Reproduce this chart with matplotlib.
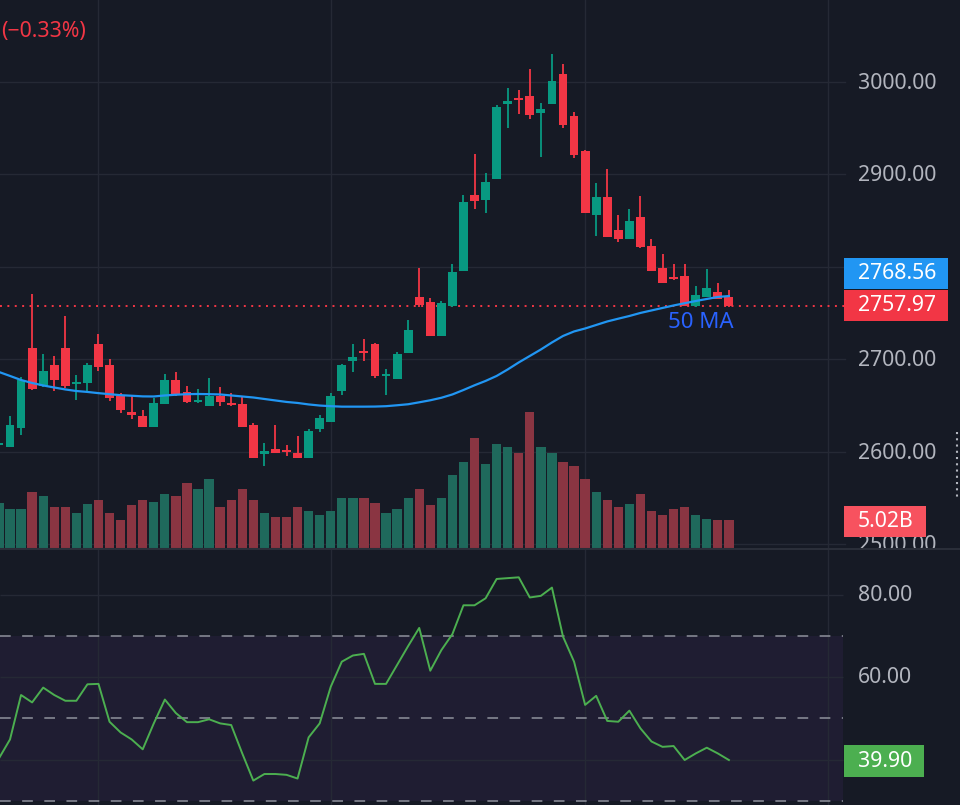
import matplotlib.pyplot as plt
from matplotlib.lines import Line2D
from matplotlib.patches import Rectangle
import numpy as np

# daily candles, oldest first (last one is the live bar)
opens = [2608, 2605, 2626, 2712, 2671, 2694, 2712, 2674, 2675, 2717, 2694, 2660, 2643, 2639, 2627, 2652, 2678,
         2665, 2654, 2650, 2660, 2653, 2652, 2629, 2598, 2603, 2601, 2599, 2593, 2625, 2632, 2666, 2698, 2709,
         2717, 2682, 2679, 2707, 2767, 2762, 2725, 2758, 2796, 2878, 2872, 2895, 2976, 2983, 2985, 2966, 2976,
         3009, 2963, 2925, 2856, 2876, 2840, 2830, 2854, 2823, 2799, 2789, 2790, 2758, 2767, 2773, 2768]
highs = [2611, 2639, 2681, 2771, 2706, 2704, 2747, 2683, 2696, 2727, 2700, 2664, 2662, 2645, 2658, 2684, 2686,
         2671, 2668, 2680, 2670, 2664, 2661, 2631, 2610, 2629, 2608, 2617, 2625, 2640, 2664, 2695, 2717, 2722,
         2718, 2690, 2708, 2743, 2799, 2766, 2763, 2803, 2878, 2922, 2902, 2975, 2993, 2991, 3014, 2977, 3030,
         3019, 2967, 2926, 2891, 2906, 2856, 2863, 2877, 2830, 2814, 2803, 2803, 2779, 2798, 2783, 2775]
lows = [2606, 2605, 2618, 2667, 2670, 2666, 2669, 2656, 2665, 2688, 2655, 2642, 2636, 2627, 2627, 2652, 2661,
        2653, 2653, 2650, 2650, 2650, 2627, 2593, 2585, 2599, 2596, 2593, 2593, 2622, 2632, 2662, 2686, 2698,
        2680, 2662, 2679, 2707, 2757, 2725, 2725, 2757, 2796, 2863, 2858, 2895, 2950, 2965, 2960, 2919, 2976,
        2950, 2918, 2858, 2834, 2832, 2827, 2830, 2820, 2796, 2783, 2786, 2758, 2757, 2767, 2765, 2757]
closes = [2609, 2629, 2678, 2668, 2688, 2678, 2671, 2676, 2694, 2692, 2658, 2645, 2640, 2627, 2653, 2678, 2662,
          2654, 2656, 2660, 2654, 2651, 2627, 2593, 2601, 2599, 2600, 2594, 2623, 2637, 2660, 2694, 2703, 2707,
          2682, 2684, 2706, 2732, 2759, 2725, 2761, 2795, 2870, 2871, 2892, 2973, 2979, 2981, 2964, 2971, 3001,
          2954, 2921, 2858, 2876, 2832, 2830, 2850, 2822, 2796, 2783, 2787, 2758, 2770, 2777, 2765, 2757.97]

# volume in billions
volumes = [8.10, 7.07, 7.07, 10.09, 9.42, 7.37, 7.37, 6.34, 8.03, 8.70, 6.34, 5.02, 7.74, 8.70, 8.39, 9.73, 9.42,
           11.78, 10.75, 12.45, 7.37, 8.70, 10.75, 8.70, 6.34, 5.67, 5.67, 7.37, 6.70, 5.98, 6.70, 9.06, 9.06,
           9.06, 8.10, 6.34, 7.07, 9.06, 10.75, 7.74, 9.06, 13.17, 15.53, 19.93, 15.17, 18.90, 18.25, 17.21,
           24.64, 18.25, 17.21, 15.53, 14.86, 12.45, 10.09, 8.70, 7.37, 8.03, 9.73, 6.70, 5.98, 7.07, 7.37, 5.98,
           5.31, 5.10, 5.02]

ma50 = [2686.5, 2682.2, 2677.8, 2674.6, 2671.9, 2669.7, 2667.6, 2665.9, 2664.9, 2663.6, 2662.5, 2661.4, 2660.8,
        2660.1, 2660.0, 2661.1, 2661.9, 2662.5, 2662.7, 2662.5, 2662.2, 2661.1, 2660.0, 2658.9, 2657.3, 2655.7,
        2654.1, 2653.0, 2651.4, 2650.2, 2649.5, 2649.0, 2649.0, 2649.0, 2649.1, 2649.5, 2650.5, 2651.6, 2653.7,
        2655.9, 2658.6, 2662.2, 2667.0, 2672.1, 2676.8, 2682.2, 2689.2, 2696.8, 2703.8, 2710.8, 2718.4, 2725.4,
        2730.3, 2733.5, 2737.3, 2741.1, 2744.1, 2747.0, 2750.3, 2753.0, 2755.7, 2758.4, 2760.8, 2763.2, 2765.4,
        2767.6, 2768.56]

rsi = [40.3, 44.9, 55.7, 53.9, 57.5, 55.7, 54.3, 54.3, 58.3, 58.4, 49.2, 46.6, 44.9, 42.5, 48.8, 54.6, 51.3,
       49.1, 49.1, 49.8, 48.8, 48.4, 41.5, 34.9, 36.5, 36.5, 36.3, 35.4, 45.4, 48.8, 57.7, 63.8, 65.3, 65.7,
       58.4, 58.4, 63.0, 67.6, 72.0, 61.6, 66.6, 70.5, 77.5, 77.5, 79.2, 83.9, 84.1, 84.3, 79.4, 79.8, 81.8,
       69.9, 63.8, 53.3, 55.5, 49.4, 49.2, 51.9, 47.6, 44.4, 43.1, 43.3, 39.9, 41.5, 42.9, 41.5, 39.90]

price_ticks = [3000, 2900, 2800, 2700, 2600, 2500]
price_labels = ['3000.00', '2900.00', '', '2700.00', '2600.00', '2500.00']
rsi_grid = [80, 60, 40]
rsi_labels = ['80.00', '60.00', '']
rsi_levels = [70, 50, 30]
month_starts = [9, 30, 53, 75]
change_text = '(\u22120.33%)'

BG = '#161a25'
GRID = '#252935'
UP = '#089981'
DOWN = '#f23645'
VOL_UP = '#1f695c'
VOL_DOWN = '#8a3542'
AXIS_TXT = '#b2b5be'
FS = 15.3

W, H = 960, 805
STEP = 11.06  # pixels per bar


def px2i(p):
    # pixel column -> bar index
    return 1 + (p - 10) / STEP


def tag(x0, x1, y0, y1, text, color):
    fig = plt.gcf()
    fig.add_artist(Rectangle((x0 / W, 1 - y1 / H), (x1 - x0) / W, (y1 - y0) / H,
                             transform=fig.transFigure, facecolor=color, edgecolor='none', zorder=5))
    fig.text(858 / W, 1 - (y0 + y1) / 2 / H, text, color='white', fontsize=FS,
             ha='left', va='center', zorder=6)


def main():
    plt.rcParams['font.family'] = ['Noto Sans', 'DejaVu Sans']
    n = len(closes)
    idx = np.arange(n)
    o = np.array(opens)
    c = np.array(closes)
    up = c >= o

    fig = plt.figure(figsize=(W / 100, H / 100), dpi=100, facecolor=BG)
    rect = [0, 257 / H, 1, 548 / H]
    axv = fig.add_axes(rect)
    ax = fig.add_axes(rect)
    axr = fig.add_axes([0, 0, 1, 256 / H])
    x0, x1 = px2i(0), px2i(W)
    x_end = px2i(845)
    for a in (axv, ax, axr):
        a.set_xlim(x0, x1)
        a.axis('off')
    ax.set_ylim(2496.2, 3088.6)
    axv.set_ylim(0, 99.3)
    axr.set_ylim(28.97, 91.18)

    # grid (drawn in the volume axes so it stays behind the bars)
    for p in price_ticks:
        axv.add_line(Line2D([x0, x_end], [p, p], color=GRID, lw=1, transform=ax.transData))
    for m in month_starts:
        axv.axvline(m, color=GRID, lw=1)
        axr.axvline(m, color=GRID, lw=1)

    # volume
    vcol = [VOL_UP if u else VOL_DOWN for u in up]
    axv.bar(idx, volumes, width=0.84, color=vcol, zorder=2)

    # candles
    col = [UP if u else DOWN for u in up]
    body_lo = np.minimum(o, c)
    body_h = np.maximum(np.abs(c - o), 1.6)
    ax.vlines(idx, lows, highs, colors=col, lw=1.3, zorder=3)
    ax.bar(idx, body_h, bottom=body_lo, width=0.8, color=col, zorder=4)
    ax.plot(idx, ma50, color='#2196f3', lw=1.6, zorder=5)
    ax.hlines(closes[-1], x0, x_end, colors=DOWN, linestyles=(0, (1, 2.8)), lw=1.4, zorder=2)
    ax.text(px2i(701), 2740, '50 MA', color='#2962ff', fontsize=16, ha='center', va='center')

    for p, lab in zip(price_ticks, price_labels):
        if lab:
            ax.text(px2i(858), p - 1.5, lab, color=AXIS_TXT, fontsize=FS, ha='left', va='center',
                    clip_on=True)

    # RSI panel
    axr.axhspan(30, 70, xmin=0, xmax=843 / W, color='#1f1d32', lw=0)
    axr.hlines(rsi_grid, x0, px2i(843), colors=GRID, lw=1)
    axr.hlines(rsi_levels, x0, px2i(843), colors='#8f929c', linestyles=(0, (7, 7.5)), lw=1.1)
    axr.plot(idx, rsi, color='#4caf50', lw=1.4)
    for r, lab in zip(rsi_grid, rsi_labels):
        if lab:
            axr.text(px2i(858), r, lab, color=AXIS_TXT, fontsize=FS, ha='left', va='center')

    # panel separator and price scale handle
    fig.add_artist(Line2D([0, 1], [1 - 548.5 / H] * 2, color='#2a2e39', lw=1.5))
    fig.add_artist(Line2D([957 / W] * 2, [1 - 432 / H, 1 - 500 / H], color=AXIS_TXT, lw=1.5,
                          linestyle=(0, (1, 2))))

    tag(844, 948, 258, 289, f'{ma50[-1]:.2f}', '#2196f3')
    tag(844, 948, 290, 321, f'{closes[-1]:.2f}', DOWN)
    tag(844, 926, 506, 537, f'{volumes[-1]:.2f}B', '#f7525f')
    tag(844, 924, 745, 777, f'{rsi[-1]:.2f}', '#4caf50')

    fig.text(86 / W, 1 - 32 / H, change_text, color=DOWN, fontsize=FS, ha='right', va='center')

    fig.savefig('out.png', dpi=100, facecolor=BG)


if __name__ == '__main__':
    main()
